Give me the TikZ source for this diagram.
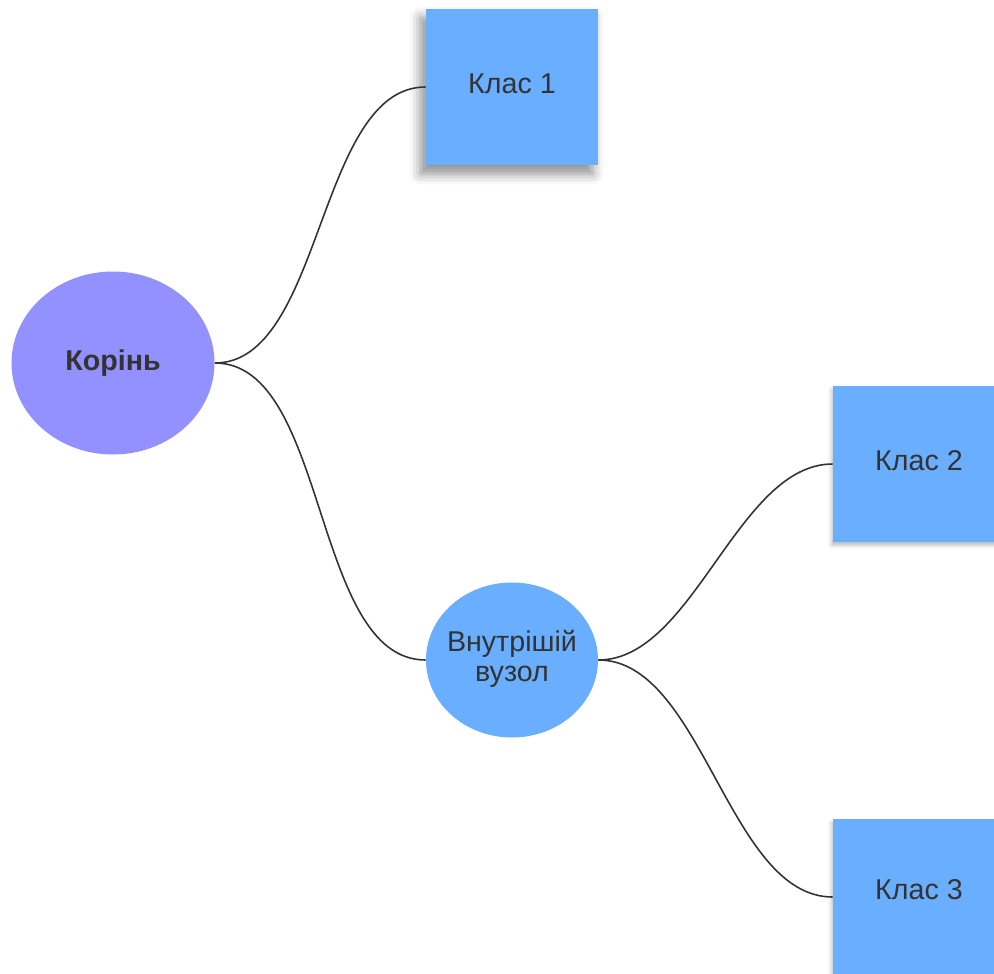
\documentclass[tikz,border=0pt]{standalone}
\usepackage{fontspec}
\setmainfont{Liberation Sans}
\usetikzlibrary{shapes.geometric,shadows.blur}
\definecolor{rootfill}{HTML}{9291FF}
\definecolor{nodefill}{HTML}{6AAEFF}
\definecolor{inkgray}{HTML}{333333}

\begin{document}
\begin{tikzpicture}[x=0.2mm,y=-0.2mm,
	every node/.style={text=inkgray, font=\fontsize{16.3}{18.5}\selectfont},
	classbox/.style={rectangle, fill=nodefill, minimum width=34.4mm,
		minimum height=31.2mm, inner sep=0pt,
		blur shadow={shadow xshift=-1pt, shadow yshift=-2pt,
			shadow blur radius=2pt, shadow opacity=25}},
	branch/.style={draw=inkgray, line width=0.9pt, out=0, in=180, looseness=0.8}]
				\useasboundingbox (0,0) rectangle (994,974);
				\clip (0,0) rectangle (994,974);
				\node (root) at (113,363) [ellipse, fill=rootfill, minimum width=40.6mm,
				minimum height=36.6mm, inner sep=0pt, font=\fontsize{16.3}{18.5}\selectfont\bfseries]
				{Корінь};
				\node (klas1) at (512,87) [classbox, blur shadow={shadow xshift=-3pt,
				shadow yshift=-5pt, shadow blur radius=6pt, shadow opacity=25}]
				{\raisebox{4pt}{Клас 1}};
				\node (inner) at (512,660) [ellipse, fill=nodefill, minimum width=34.4mm,
				minimum height=31mm, inner xsep=-6mm, inner ysep=0pt, align=center]
				{\raisebox{2.3pt}{\begin{tabular}{@{}c@{}}Внутрішій\\[-1pt]вузол\end{tabular}}};
				\node (klas2) at (919,464) [classbox] {\raisebox{4pt}{Клас 2}};
				\node (klas3) at (919,897) [classbox] {\raisebox{8pt}{Клас 3}};
				\draw [branch] (root.east) to (klas1.west);
				\draw [branch] (root.east) to (inner.west);
				\draw [branch] (inner.east) to (klas2.west);
				\draw [branch] (inner.east) to (klas3.west);
			\end{tikzpicture}
\end{document}
